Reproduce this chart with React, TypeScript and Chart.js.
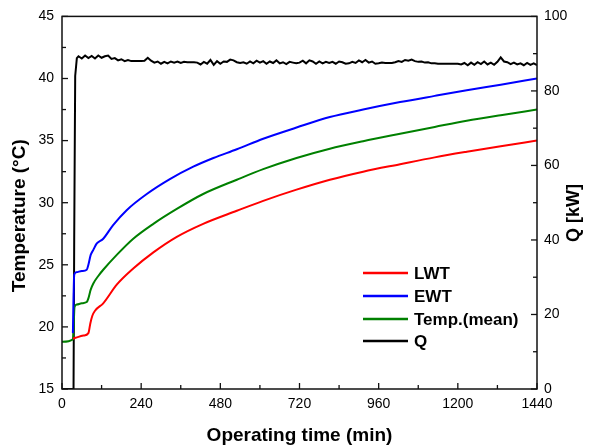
import React, { useEffect, useRef } from "react";
import { Chart, registerables } from "chart.js";

Chart.register(...registerables);

const xTicks = [0, 240, 480, 720, 960, 1200, 1440];
const tempTicks = [15, 20, 25, 30, 35, 40, 45];
const qTicks = [0, 20, 40, 60, 80, 100];

const lwtTime = [33, 50, 65, 80, 86, 92, 100, 125, 166, 216, 277, 348, 428, 530, 610, 711, 812, 913, 1025, 1130, 1227, 1330, 1440];
const lwtValues = [19.05, 19.2, 19.3, 19.5, 20.3, 20.9, 21.3, 21.9, 23.4, 24.7, 26.0, 27.25, 28.3, 29.35, 30.15, 31.05, 31.85, 32.5, 33.1, 33.65, 34.1, 34.55, 35.0];

const ewtTime = [33, 37, 43, 60, 75, 80, 87, 95, 105, 125, 155, 196, 257, 327, 398, 459, 530, 610, 711, 812, 913, 1025, 1130, 1227, 1330, 1440];
const ewtValues = [19.5, 24.2, 24.4, 24.5, 24.6, 25.0, 25.8, 26.2, 26.7, 27.1, 28.2, 29.4, 30.7, 31.9, 32.9, 33.6, 34.3, 35.15, 36.05, 36.9, 37.5, 38.1, 38.6, 39.05, 39.5, 40.0];

const meanTime = [0, 33, 35, 38, 45, 60, 75, 80, 87, 95, 110, 125, 166, 216, 277, 348, 428, 530, 610, 711, 812, 913, 1025, 1130, 1227, 1330, 1440];
const meanValues = [18.8, 19.0, 19.8, 21.6, 21.8, 21.9, 22.0, 22.3, 23.0, 23.5, 24.1, 24.6, 25.8, 27.1, 28.3, 29.5, 30.7, 31.85, 32.7, 33.6, 34.35, 34.95, 35.55, 36.1, 36.6, 37.05, 37.5];

const qTime = [
  0, 35, 37, 40, 45, 50, 60, 70, 80, 90,
  100, 110, 120, 130, 140, 150, 160, 170, 180, 190,
  200, 210, 220, 230, 240, 250, 260, 270, 280, 290,
  300, 310, 320, 330, 340, 350, 360, 370, 380, 390,
  400, 410, 420, 430, 440, 450, 460, 470, 480, 490,
  500, 510, 520, 530, 540, 550, 560, 570, 580, 590,
  600, 610, 620, 630, 640, 650, 660, 670, 680, 690,
  700, 710, 720, 730, 740, 750, 760, 770, 780, 790,
  800, 810, 820, 830, 840, 850, 860, 870, 880, 890,
  900, 910, 920, 930, 940, 950, 960, 970, 980, 990,
  1000, 1010, 1020, 1030, 1040, 1050, 1060, 1070, 1080, 1090,
  1100, 1110, 1120, 1130, 1140, 1150, 1160, 1170, 1180, 1190,
  1200, 1210, 1220, 1230, 1240, 1250, 1260, 1270, 1280, 1290,
  1300, 1310, 1320, 1330, 1340, 1350, 1360, 1370, 1380, 1390,
  1400, 1410, 1420, 1430, 1440,
];
const qValues = [
  0, 0, 40, 84, 88.8, 89.3, 88.7, 89.5, 88.8, 89.4,
  88.7, 89.5, 88.9, 89.3, 89.5, 88.6, 88.8, 88.2, 88.5, 88.0,
  88.3, 88.0, 88.0, 88.0, 88.0, 88.1, 88.9, 88.1, 87.6, 87.9,
  87.3, 87.8, 87.4, 87.9, 87.6, 87.9, 87.5, 87.8, 87.7, 87.7,
  87.7, 87.6, 87.1, 87.8, 87.3, 88.3, 87.0, 88.0, 87.3, 87.9,
  87.8, 88.4, 88.2, 87.7, 87.5, 87.7, 87.3, 87.9, 87.4, 88.1,
  87.6, 88.0, 87.3, 87.9, 87.5, 88.2, 87.4, 87.7, 87.2, 87.8,
  87.6, 87.4, 87.6, 88.1, 87.4, 88.2, 87.9, 87.3, 87.9, 87.4,
  87.8, 87.5, 87.8, 87.3, 87.9, 87.7, 87.3, 87.4, 87.8, 87.5,
  88.2, 87.7, 88.3, 87.6, 87.9, 87.3, 87.4, 87.6, 87.5, 87.5,
  87.5, 87.7, 88.0, 87.8, 88.3, 88.1, 88.4, 88.0, 87.8, 87.9,
  87.6, 87.7, 87.4, 87.4, 87.3, 87.3, 87.3, 87.3, 87.3, 87.3,
  87.3, 87.1, 87.5, 86.9, 87.6, 87.0, 87.7, 87.2, 87.9, 87.1,
  87.6, 87.0, 87.8, 89.0, 87.9, 87.7, 87.2, 87.6, 87.1, 87.4,
  86.9, 87.5, 87.0, 87.4, 86.9,
];

const FONT = "'Liberation Sans', Arial, sans-serif";

function pts(t: number[], v: number[]) {
  const n = Math.min(t.length, v.length);
  const out: { x: number; y: number }[] = [];
  for (let i = 0; i < n; i++) out.push({ x: t[i], y: v[i] });
  return out;
}

const framePlugin = {
  id: "framePlugin",
  afterDraw(chart: any) {
    const { ctx, chartArea: a, scales } = chart;
    const x = scales.x, y = scales.y, y1 = scales.y1;
    ctx.save();
    ctx.strokeStyle = "#111";
    ctx.lineWidth = 1.5;
    ctx.strokeRect(a.left, a.top, a.right - a.left, a.bottom - a.top);
    ctx.lineWidth = 1.3;
    const maj = 6, mn = 4;
    for (let i = 0; i < xTicks.length; i++) {
      const px = x.getPixelForValue(xTicks[i]);
      ctx.beginPath(); ctx.moveTo(px, a.bottom); ctx.lineTo(px, a.bottom - maj); ctx.stroke();
      if (i < xTicks.length - 1) {
        const pm = x.getPixelForValue((xTicks[i] + xTicks[i + 1]) / 2);
        ctx.beginPath(); ctx.moveTo(pm, a.bottom); ctx.lineTo(pm, a.bottom - mn); ctx.stroke();
      }
    }
    for (let i = 0; i < tempTicks.length; i++) {
      const py = y.getPixelForValue(tempTicks[i]);
      ctx.beginPath(); ctx.moveTo(a.left, py); ctx.lineTo(a.left + maj, py); ctx.stroke();
      if (i < tempTicks.length - 1) {
        const pm = y.getPixelForValue((tempTicks[i] + tempTicks[i + 1]) / 2);
        ctx.beginPath(); ctx.moveTo(a.left, pm); ctx.lineTo(a.left + mn, pm); ctx.stroke();
      }
    }
    for (let i = 0; i < qTicks.length; i++) {
      const py = y1.getPixelForValue(qTicks[i]);
      ctx.beginPath(); ctx.moveTo(a.right, py); ctx.lineTo(a.right - maj, py); ctx.stroke();
      if (i < qTicks.length - 1) {
        const pm = y1.getPixelForValue((qTicks[i] + qTicks[i + 1]) / 2);
        ctx.beginPath(); ctx.moveTo(a.right, pm); ctx.lineTo(a.right - mn, pm); ctx.stroke();
      }
    }
    ctx.fillStyle = "#000";
    ctx.font = `bold 19px ${FONT}`;
    ctx.textAlign = "center";
    ctx.textBaseline = "alphabetic";
    ctx.fillText("Operating time (min)", (a.left + a.right) / 2, 441);
    ctx.save();
    ctx.translate(25, (a.top + a.bottom) / 2 + 13);
    ctx.rotate(-Math.PI / 2);
    ctx.fillText("Temperature (°C)", 0, 0);
    ctx.restore();
    ctx.save();
    ctx.font = `bold 18px ${FONT}`;
    ctx.translate(579, 213);
    ctx.rotate(-Math.PI / 2);
    ctx.fillText("Q [kW]", 0, 0);
    ctx.restore();
    const ds = chart.data.datasets;
    const rows = [273, 296, 319, 341];
    ctx.font = `bold 17px ${FONT}`;
    ctx.textAlign = "left";
    ctx.textBaseline = "middle";
    for (let i = 0; i < ds.length; i++) {
      const ry = rows[i];
      ctx.strokeStyle = ds[i].borderColor;
      ctx.lineWidth = 2.5;
      ctx.beginPath(); ctx.moveTo(363, ry); ctx.lineTo(408, ry); ctx.stroke();
      ctx.fillStyle = "#000";
      ctx.fillText(ds[i].label, 414, ry + 1);
    }
    ctx.restore();
  },
};

const plain = (v: any) => String(v);

export default function App() {
  const ref = useRef<HTMLCanvasElement>(null);
  useEffect(() => {
    document.body.style.margin = "0";
    const canvas = ref.current;
    if (!canvas) return;
    const common = { pointRadius: 0, borderWidth: 2, fill: false };
    const chart = new Chart(canvas, {
      type: "line",
      data: {
        datasets: [
          { label: "LWT", data: pts(lwtTime, lwtValues), borderColor: "#ff0000", yAxisID: "y", cubicInterpolationMode: "monotone", ...common },
          { label: "EWT", data: pts(ewtTime, ewtValues), borderColor: "#0000ff", yAxisID: "y", cubicInterpolationMode: "monotone", ...common },
          { label: "Temp.(mean)", data: pts(meanTime, meanValues), borderColor: "#008000", yAxisID: "y", cubicInterpolationMode: "monotone", ...common },
          { label: "Q", data: pts(qTime, qValues), borderColor: "#000000", yAxisID: "y1", tension: 0, ...common },
        ],
      } as any,
      options: {
        animation: false,
        responsive: false,
        maintainAspectRatio: false,
        layout: { padding: { top: 16, left: 0, right: 0, bottom: 0 } },
        plugins: { legend: { display: false }, tooltip: { enabled: false } },
        scales: {
          x: {
            type: "linear",
            min: 0,
            max: 1440,
            afterBuildTicks: (s: any) => { s.ticks = xTicks.map((v) => ({ value: v })); },
            afterFit: (s: any) => { s.height = 59; },
            grid: { display: false, drawTicks: false },
            border: { display: false },
            ticks: { padding: 7, color: "#000", font: { family: FONT, size: 14 }, maxRotation: 0, callback: plain },
          },
          y: {
            type: "linear",
            position: "left",
            min: 15,
            max: 45,
            afterBuildTicks: (s: any) => { s.ticks = tempTicks.map((v) => ({ value: v })); },
            afterFit: (s: any) => { s.width = 62; },
            grid: { display: false, drawTicks: false },
            border: { display: false },
            ticks: { padding: 8, color: "#000", font: { family: FONT, size: 14 }, callback: plain },
          },
          y1: {
            type: "linear",
            position: "right",
            min: 0,
            max: 100,
            afterBuildTicks: (s: any) => { s.ticks = qTicks.map((v) => ({ value: v })); },
            afterFit: (s: any) => { s.width = 56; },
            grid: { display: false, drawTicks: false },
            border: { display: false },
            ticks: { padding: 7, color: "#000", font: { family: FONT, size: 14 }, callback: plain },
          },
        },
      } as any,
      plugins: [framePlugin],
    });
    return () => chart.destroy();
  }, []);
  return (
    <div style={{ width: 593, height: 448, background: "#fff" }}>
      <canvas ref={ref} width={593} height={448} style={{ display: "block" }} />
    </div>
  );
}
